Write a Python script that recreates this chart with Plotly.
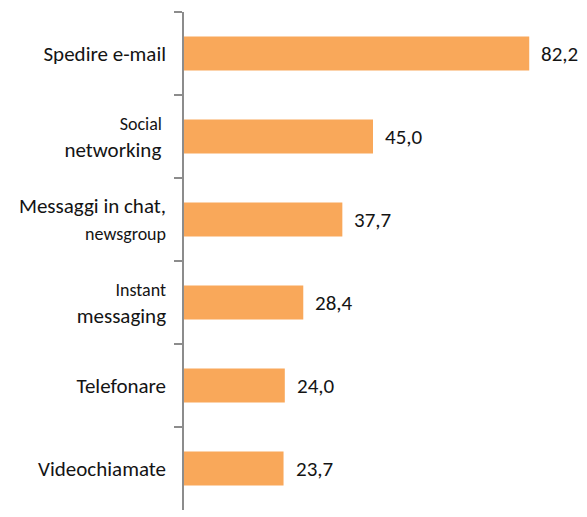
import plotly.graph_objects as go

categories = [
    "Spedire e-mail",
    "<span style=\"font-size:18px\">Social </span><br>networking ",
    "Messaggi in chat,<br><span style=\"font-size:18px\">newsgroup</span>",
    "<span style=\"font-size:18px\">Instant</span><br>messaging",
    "Telefonare",
    "Videochiamate",
]
values = [82.2, 45.0, 37.7, 28.4, 24.0, 23.7]
value_labels = ["82,2", "45,0", "37,7", "28,4", "24,0", "23,7"]

FONT = "Carlito, Lato, sans-serif"
BAR = "#F9A85A"
AXIS = "#8C8C8C"

fig = go.Figure(go.Bar(
    x=values, y=categories, orientation="h",
    marker=dict(color=BAR, line=dict(width=0)),
    width=0.41,
    hoverinfo="skip",
))

for v, c, t in zip(values, categories, value_labels):
    fig.add_annotation(x=v, y=c, text=t, showarrow=False, xanchor="left",
                       xshift=10, font=dict(family=FONT, size=21, color="#141414"))

fig.update_layout(
    width=587, height=517,
    margin=dict(l=184, r=4, t=12, b=7),
    paper_bgcolor="white", plot_bgcolor="white",
    showlegend=False,
    font=dict(family=FONT, size=21, color="#141414"),
    xaxis=dict(range=[0, 95], visible=False, fixedrange=True, automargin=False),
    yaxis=dict(
        autorange="reversed",
        automargin=False,
        showline=True, linecolor=AXIS, linewidth=1.5,
        ticks="outside", tickson="boundaries", ticklen=8,
        tickcolor=AXIS, tickwidth=1.5,
        showgrid=False, zeroline=False,
        ticklabelstandoff=12,
        tickfont=dict(family=FONT, size=21, color="#141414"),
        fixedrange=True,
    ),
)

fig.write_html(
    "out.html",
    config={"displayModeBar": False},
    post_script="document.body.style.margin='0';document.body.style.overflow='hidden';",
)
